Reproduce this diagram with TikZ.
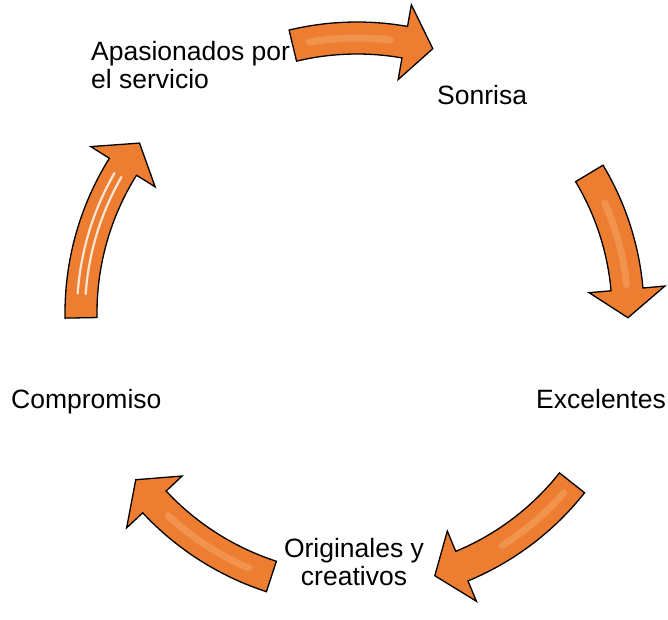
\documentclass[tikz,border=0pt]{standalone}
\usepackage{fontspec}
\setmainfont{Liberation Sans}
\definecolor{arrfill}{RGB}{237,125,49}
\definecolor{arrlight}{RGB}{248,178,120}
\newcommand\cycarrow[3]{%
  \pgfmathsetmacro\hb{#2+6}%
  \pgfmathsetmacro\ro{#3+16}\pgfmathsetmacro\ri{#3-16}%
  \pgfmathsetmacro\ho{#3+38}\pgfmathsetmacro\hi{#3-38}%
  \draw[arrowbody] ([shift={(#1:\ro)}]ctr) arc[start angle=#1, end angle=\hb, radius=\ro]
    -- ([shift={(\hb:\ho)}]ctr) -- ([shift={(#2:#3)}]ctr) -- ([shift={(\hb:\hi)}]ctr)
    -- ([shift={(\hb:\ri)}]ctr) arc[start angle=\hb, end angle=#1, radius=\ri] -- cycle;
}
\newcommand\cychigh[4]{% from angle, to angle, radius, style
  \draw[#4] ([shift={(#1:#3)}]ctr) arc[start angle=#1, end angle=#2, radius=#3];
}
\begin{document}
\begin{tikzpicture}[x=1pt,y=1pt,
  arrowbody/.style={fill=arrfill, draw=black, line width=1.3pt, line join=miter},
  lbl/.style={font=\fontsize{26.5}{28}\selectfont, inner sep=0pt, text=black},
  hlw/.style={draw=white, line width=2.2pt, line cap=round, opacity=0.8},
  hlo/.style={draw=arrlight, line width=7pt, line cap=round, opacity=0.4}]
\useasboundingbox (0,0) rectangle (668,-619);
\coordinate (ctr) at (357,-313);
% arrows
\cycarrow{103.5}{74}{275}
\cycarrow{31}{-1}{271}
\cycarrow{-38.3}{-73.5}{274}
\cycarrow{-108}{-143}{277}
\cycarrow{181}{142}{276}
% highlights
\cychigh{100}{83}{275}{hlo}
\cychigh{24}{6}{271}{hlo}
\cychigh{-41}{-58}{274}{hlo}
\cychigh{-113}{-133}{277}{hlo}
\cychigh{176}{150}{272}{hlw}
\cychigh{176}{150}{280}{hlw}
% labels
\node[lbl, anchor=base west, align=left] (apas) at (91,-88) {Apasionados por\\el servicio};
\node[lbl, anchor=base west] (sonr) at (437,-104) {Sonrisa};
\node[lbl, anchor=base west] (exce) at (536,-408) {Excelentes};
\node[lbl, anchor=base west] (comp) at (11,-408) {Compromiso};
\node[lbl, anchor=base, align=center] (orig) at (354,-585) {Originales y\\creativos};
\end{tikzpicture}
\end{document}
